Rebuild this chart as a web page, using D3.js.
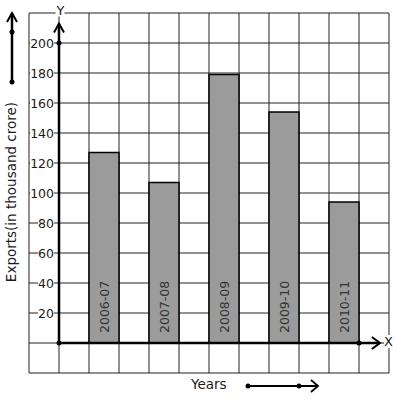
<!DOCTYPE html>
<meta charset="utf-8">
<style>
    body { margin: 0; background: #fff; }
    text { font-family: "DejaVu Sans", sans-serif; fill: #1a1a1a; }
    .grid line { stroke: #222; stroke-width: 1; }
    .bar { fill: #9b9b9b; stroke: #000; stroke-width: 1.5; }
    .year text { font-size: 12.5px; fill: #333; }
</style>
<svg width="397" height="399"></svg>
<script src="https://cdn.jsdelivr.net/npm/d3@7"></script>
<script>

    var years = ["2006-07", "2007-08", "2008-09", "2009-10", "2010-11"];
    var exports = [127, 107, 179, 154, 94];
    var yTicks = [20, 40, 60, 80, 100, 120, 140, 160, 180, 200];

    var svg = d3.select("svg");

    // 20 units per grid square, 30px per square
    var y = d3.scaleLinear().domain([0, 200]).range([343, 43]);
    var x = d3.scaleBand().domain(years).range([59, 389])
        .paddingInner(0.5).paddingOuter(0.5);
    var gx = d3.scaleLinear().domain([-1, 11]).range([29, 389]);

    var grid = svg.append("g").attr("class", "grid");
    grid.selectAll(".h")
        .data(d3.range(-20, 221, 20))
        .enter().append("line")
        .attr("x1", gx(-1)).attr("x2", gx(11))
        .attr("y1", d => y(d)).attr("y2", d => y(d));
    grid.selectAll(".v")
        .data(d3.range(-1, 12))
        .enter().append("line")
        .attr("x1", d => gx(d)).attr("x2", d => gx(d))
        .attr("y1", y(220)).attr("y2", y(-20));

    // bars
    svg.selectAll(".bar")
        .data(years)
        .enter().append("rect")
        .attr("class", "bar")
        .attr("x", d => x(d))
        .attr("width", x.bandwidth())
        .attr("y", (d, i) => y(exports[i]))
        .attr("height", (d, i) => y(0) - y(exports[i]));

    svg.append("g").attr("class", "year")
        .selectAll("text")
        .data(years)
        .enter().append("text")
        .attr("transform", d => "translate(" + (x(d) + x.bandwidth() / 2 + 4.5) + "," + (y(0) - 10) + ") rotate(-90)")
        .text(d => d);

    // tick labels with white backing
    function boxed(sel) {
        sel.each(function() {
            var b = this.getBBox();
            d3.select(this.parentNode).insert("rect", function() { return this; }.bind(this))
                .attr("x", b.x).attr("y", b.y + 1)
                .attr("width", b.width).attr("height", b.height - 2)
                .attr("fill", "#fff");
        });
    }

    var tl = svg.append("g").selectAll("g")
        .data(yTicks)
        .enter().append("g");
    tl.append("text")
        .attr("x", 54)
        .attr("y", d => y(d) + 4.5)
        .attr("text-anchor", "end")
        .style("font-size", "12.5px")
        .text(d => d);
    boxed(tl.selectAll("text"));

    // axes
    var axis = svg.append("g").attr("stroke", "#000").attr("fill", "none");
    axis.append("line")
        .attr("x1", x.range()[0]).attr("x2", x.range()[0])
        .attr("y1", y(0)).attr("y2", y(213))
        .attr("stroke-width", 2.5);
    axis.append("path")
        .attr("d", "M" + (x.range()[0] - 5) + "," + y(207) + "L" + x.range()[0] + "," + y(213) + "L" + (x.range()[0] + 5) + "," + y(207))
        .attr("stroke-width", 2);
    axis.append("line")
        .attr("x1", x.range()[0]).attr("x2", gx(10.7))
        .attr("y1", y(0)).attr("y2", y(0))
        .attr("stroke-width", 2.5);
    axis.append("path")
        .attr("d", "M" + gx(10.43) + "," + (y(0) - 6) + "L" + gx(10.7) + "," + y(0) + "L" + gx(10.43) + "," + (y(0) + 6))
        .attr("stroke-width", 2);

    var dots = [[x.range()[0], y(0)], [x.range()[0], y(200)], [gx(10), y(0)]];
    svg.selectAll(".dot")
        .data(dots)
        .enter().append("circle")
        .attr("cx", d => d[0]).attr("cy", d => d[1]).attr("r", 2.5)
        .attr("fill", "#000");

    // axis letters
    var letters = svg.append("g");
    letters.append("text").attr("x", 60.5).attr("y", 14.5)
        .attr("text-anchor", "middle").style("font-size", "13px").text("Y");
    letters.append("text").attr("x", 388.5).attr("y", 346)
        .attr("text-anchor", "middle").style("font-size", "13px").text("X");
    boxed(letters.selectAll("text"));

    // titles
    svg.append("text")
        .attr("transform", "translate(16,192) rotate(-90)")
        .attr("text-anchor", "middle")
        .style("font-size", "13.5px")
        .text("Exports(in thousand crore)");
    svg.append("text")
        .attr("x", 191).attr("y", 389)
        .style("font-size", "13.5px")
        .text("Years");

    // little direction arrows
    var deco = svg.append("g").attr("stroke", "#000").attr("fill", "none");
    deco.append("line").attr("x1", 12).attr("x2", 12).attr("y1", 82).attr("y2", 13)
        .attr("stroke-width", 2.5);
    deco.append("path").attr("d", "M7,22L12,13L17,22").attr("stroke-width", 2);
    deco.append("line").attr("x1", 248).attr("x2", 318).attr("y1", 386).attr("y2", 386)
        .attr("stroke-width", 2);
    deco.append("path").attr("d", "M311,380L318,386L311,392").attr("stroke-width", 1.8);
    svg.selectAll(".ddot")
        .data([[12, 82], [12, 32], [248, 386], [299, 386]])
        .enter().append("circle")
        .attr("cx", d => d[0]).attr("cy", d => d[1]).attr("r", 2.5)
        .attr("fill", "#000");

</script>
